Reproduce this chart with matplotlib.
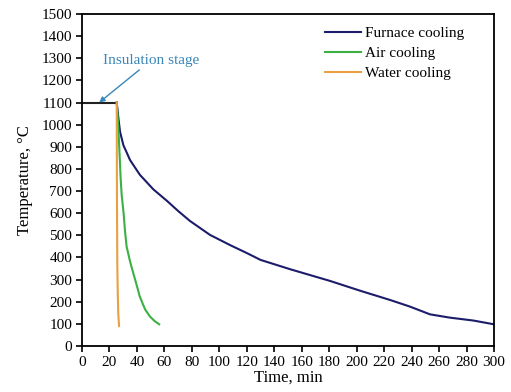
import matplotlib
matplotlib.use("Agg")
import matplotlib.pyplot as plt

plt.rcParams['font.family'] = ['Liberation Serif', 'DejaVu Serif']

# Insulation stage
hold_t = [0, 25.3]
hold_T = [1100, 1100]

# Furnace cooling
furnace_t = [25.3, 26.5, 27.7, 30.1, 35, 42.2, 51.9, 62, 70, 78.6, 93.2, 107.8, 120, 130, 151.5,
             180.6, 202.4, 224.3, 238.8, 253.4, 268, 285, 300]
furnace_T = [1100, 1029, 968, 908, 840, 773, 708, 655, 610, 565, 502, 456, 420, 389, 347,
             294, 250, 208, 178, 143, 128, 115, 98]

# Air cooling
air_t = [25.3, 26.5, 28.2, 28.9, 30.3, 31.3, 32.5, 34.5, 35.5, 37.4, 39.8, 42, 44.6, 46, 49.5, 53, 56.2]
air_T = [1100, 984, 750, 682, 600, 520, 449, 395, 370, 328, 275, 225, 185, 165, 133, 112, 98]

# Water cooling
water_t = [25.3, 25.4, 25.7, 26.0, 26.4, 27.0]
water_T = [1100, 750, 374, 250, 148, 90]

xticks = list(range(0, 301, 20))
yticks = list(range(0, 1501, 100))

fig = plt.figure(figsize=(5.11, 3.92), dpi=100)
ax = fig.add_axes([82/511, 1-346/392, (494-82)/511, (346-14)/392])

ax.plot(hold_t, hold_T, color='#222222', lw=1.5)
ax.plot(furnace_t, furnace_T, color='#1c1c6b', lw=1.5, label='Furnace cooling')
ax.plot(air_t, air_T, color='#3cb043', lw=1.5, label='Air cooling')
ax.plot(water_t, water_T, color='#e8a040', lw=1.5, label='Water cooling')

ax.annotate('Insulation stage', xy=(12.5, 1100), xytext=(15, 1260),
            color='#3a87b8', fontsize=11,
            arrowprops=dict(arrowstyle='-|>', color='#3a87b8', lw=1, mutation_scale=8,
                            shrinkA=0, shrinkB=0),
            ha='left', va='bottom')

ax.set_xlim(0, 300)
ax.set_ylim(0, 1500)
ax.set_xticks(xticks)
ax.set_yticks(yticks)
ax.tick_params(direction='out', length=4, width=1.2, labelsize=11, pad=3)
for s in ax.spines.values():
    s.set_linewidth(1.3)
ax.set_xlabel('Time, min', fontsize=12, labelpad=1)
ax.set_ylabel('Temperature, \u00b0C', fontsize=12, labelpad=6)

leg = ax.legend(loc='upper right', bbox_to_anchor=(0.95, 0.99), frameon=False, fontsize=11,
                handlelength=2.3, handletextpad=0.3, labelspacing=0.42, borderaxespad=0.2)

fig.savefig('out.png', dpi=100)
